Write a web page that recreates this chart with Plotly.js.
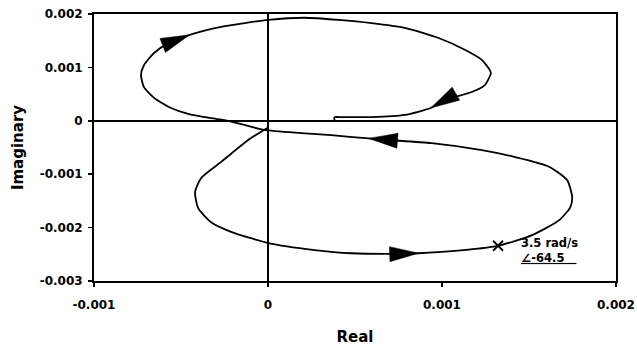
<!DOCTYPE html>
<html>
<head>
<meta charset="utf-8">
<script src="https://cdn.plot.ly/plotly-3.0.1.min.js"></script>
<style>
  html, body { margin: 0; padding: 0; background: #fff; }
  #plot { width: 637px; height: 346px; }
</style>
</head>
<body>
<div id="plot"></div>
<script>
// Frequency-response locus: real part vs imaginary part, traced in order of rising frequency
const re = [
  -0.004e-3, -0.114e-3, -0.269e-3, -0.384e-3, -0.419e-3, -0.402e-3, -0.327e-3, -0.212e-3,
   0.002e-3,  0.267e-3,  0.480e-3,  0.768e-3,  0.866e-3,  1.057e-3,  1.322e-3,  1.518e-3,
   1.674e-3,  1.737e-3,  1.748e-3,  1.719e-3,  1.615e-3,  1.420e-3,  1.229e-3,  0.941e-3,
   0.693e-3,  0.578e-3,  0.364e-3,  0.192e-3, -0.021e-3, -0.228e-3, -0.327e-3, -0.459e-3,
  -0.557e-3, -0.655e-3, -0.713e-3, -0.730e-3, -0.713e-3, -0.655e-3, -0.575e-3, -0.450e-3,
  -0.269e-3,  0.002e-3,  0.210e-3,  0.405e-3,  0.595e-3,  0.786e-3,  0.981e-3,  1.131e-3,
   1.229e-3,  1.275e-3,  1.281e-3,  1.246e-3,  1.171e-3,  1.016e-3,  0.935e-3,  0.786e-3,
   0.595e-3,  0.405e-3,  0.382e-3,  0.382e-3
];
const im = [
  -0.135e-3, -0.360e-3, -0.770e-3, -1.070e-3, -1.330e-3, -1.630e-3, -1.900e-3, -2.080e-3,
  -2.290e-3, -2.420e-3, -2.480e-3, -2.490e-3, -2.480e-3, -2.440e-3, -2.340e-3, -2.140e-3,
  -1.860e-3, -1.620e-3, -1.430e-3, -1.110e-3, -0.860e-3, -0.680e-3, -0.550e-3, -0.420e-3,
  -0.360e-3, -0.330e-3, -0.270e-3, -0.230e-3, -0.170e-3,  0.000e-3,  0.050e-3,  0.130e-3,
   0.240e-3,  0.430e-3,  0.630e-3,  0.860e-3,  1.040e-3,  1.270e-3,  1.450e-3,  1.610e-3,
   1.760e-3,  1.890e-3,  1.930e-3,  1.890e-3,  1.830e-3,  1.740e-3,  1.550e-3,  1.330e-3,
   1.140e-3,  0.950e-3,  0.890e-3,  0.670e-3,  0.540e-3,  0.390e-3,  0.240e-3,  0.110e-3,
   0.070e-3,  0.070e-3,  0.070e-3,  0.010e-3
];

// Points of the locus that carry a direction arrowhead (arrow tip sits on the point)
const arrowAt = [12, 25, 39, 54];

// Marked frequency point and its label
const markRe = [1.322e-3];
const markIm = [-2.340e-3];
const markFreq = '3.5 rad/s';
const markPhase = '∠-64.5';

// Axis ticks
const xTickVals = [-0.001, 0, 0.001, 0.002];
const xTickText = ['-0.001', '0', '0.001', '0.002'];
const yTickVals = [0.002, 0.001, 0, -0.001, -0.002, -0.003];
const yTickText = ['0.002', '0.001', '0', '-0.001', '-0.002', '-0.003'];

const W = 637, H = 346;
const M = { l: 94, r: 21, t: 14, b: 65 };
const xRange = [-0.001, 0.002];
const yRange = [-0.003, 0.002];

// pixel scale of each axis, used to shape arrowheads with a fixed on-screen size
const sx = (W - M.l - M.r) / (xRange[1] - xRange[0]);
const sy = (H - M.t - M.b) / (yRange[1] - yRange[0]);
const headLen = 29, headHalf = 7.5;

const headX = [], headY = [];
arrowAt.forEach(k => {
  const tx = re[k] * sx, ty = im[k] * sy;
  const px = re[k - 1] * sx, py = im[k - 1] * sy;
  let ux = tx - px, uy = ty - py;
  const n = Math.hypot(ux, uy); ux /= n; uy /= n;
  const bx = tx - headLen * ux, by = ty - headLen * uy;
  const nx = -uy, ny = ux;
  headX.push(re[k], (bx + headHalf * nx) / sx, (bx - headHalf * nx) / sx, re[k], null);
  headY.push(im[k], (by + headHalf * ny) / sy, (by - headHalf * ny) / sy, im[k], null);
});

const font = { family: 'DejaVu Sans, Arial, sans-serif', color: '#000', weight: 'bold' };

const traces = [
  {
    x: re, y: im, type: 'scatter', mode: 'lines',
    line: { color: '#000', width: 1.8, shape: 'spline', smoothing: 0.6 },
    hoverinfo: 'skip'
  },
  {
    x: headX, y: headY, type: 'scatter', mode: 'lines',
    fill: 'toself', fillcolor: '#000',
    line: { color: '#000', width: 0.5 },
    hoverinfo: 'skip'
  },
  {
    x: markRe, y: markIm, type: 'scatter', mode: 'markers',
    marker: { symbol: 'x-thin-open', size: 10, color: '#000', line: { color: '#000', width: 1.8 } },
    hoverinfo: 'skip'
  }
];

const axisCommon = {
  showgrid: false,
  zeroline: true, zerolinecolor: '#000', zerolinewidth: 2,
  showline: true, mirror: true, linecolor: '#000', linewidth: 2,
  ticks: 'outside', ticklen: 4, tickwidth: 1.5, tickcolor: '#000',
  tickfont: Object.assign({ size: 12 }, font),
  tickmode: 'array'
};

const layout = {
  width: W, height: H,
  margin: M,
  paper_bgcolor: '#fff', plot_bgcolor: '#fff',
  showlegend: false,
  xaxis: Object.assign({}, axisCommon, {
    range: xRange, tickvals: xTickVals, ticktext: xTickText,
    ticklabelstandoff: 8,
    title: { text: 'Real', font: Object.assign({ size: 15 }, font), standoff: 20 }
  }),
  yaxis: Object.assign({}, axisCommon, {
    range: yRange, tickvals: yTickVals, ticktext: yTickText,
    ticklabelstandoff: 3,
    title: { text: 'Imaginary', font: Object.assign({ size: 15 }, font), standoff: 12 }
  }),
  annotations: [{
    x: markRe[0], y: markIm[0], xref: 'x', yref: 'y',
    text: markFreq + '<br><u>' + markPhase + '\u00a0\u00a0\u00a0</u>',
    showarrow: false, xanchor: 'left', yanchor: 'middle', align: 'left',
    xshift: 21, yshift: -5,
    font: Object.assign({ size: 11.5 }, font)
  }]
};

Plotly.newPlot('plot', traces, layout, { staticPlot: true, displayModeBar: false });
</script>
</body>
</html>
